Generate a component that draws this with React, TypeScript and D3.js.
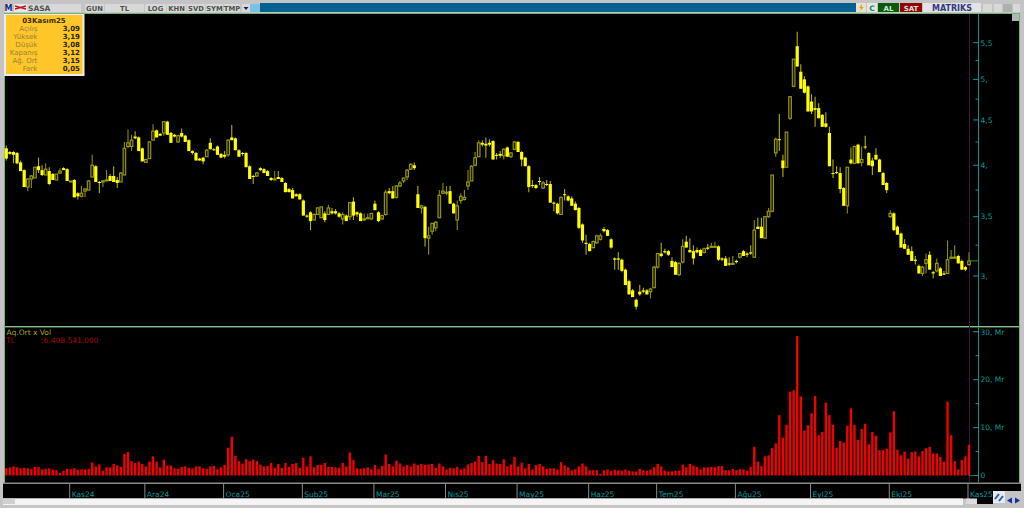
import React from 'react';
import * as d3 from 'd3';

// [open, high, low, close] per trading day
const ekim24 = [
  [4.18,4.21,4.05,4.07],[4.14,4.15,4.11,4.12],[4.14,4.15,4.02,4.11],[4.13,4.14,4.01,4.02],[4.03,4.05,3.94,3.94],
  [3.95,3.96,3.78,3.78],[3.78,3.87,3.74,3.86],[3.86,3.90,3.77,3.89],[3.87,3.98,3.87,3.98],[3.99,4.08,3.92,3.95],
  [3.95,4.00,3.89,3.90],[3.90,4.02,3.90,3.96],[3.94,3.98,3.80,3.81],[3.91,3.92,3.85,3.85],[3.85,3.91,3.85,3.91],
  [3.92,3.97,3.91,3.94],[3.97,3.98,3.95,3.95],[3.96,3.97,3.84,3.84],
];
const kasim24 = [
  [3.84,3.84,3.83,3.84],[3.85,3.86,3.68,3.68],[3.72,3.73,3.66,3.69],[3.69,3.79,3.68,3.72],[3.74,3.77,3.68,3.76],
  [3.75,3.85,3.75,3.84],[3.88,4.11,3.88,4.00],[3.99,4.00,3.83,3.83],[3.83,3.84,3.72,3.82],[3.84,3.85,3.78,3.84],
  [3.84,3.95,3.84,3.85],[3.89,3.91,3.84,3.84],[3.89,3.99,3.83,3.83],[3.85,3.88,3.77,3.82],[3.83,3.93,3.83,3.92],
  [3.90,4.25,3.90,4.18],[4.20,4.39,4.18,4.24],[4.20,4.33,4.15,4.27],[4.31,4.37,4.28,4.29],[4.30,4.31,4.15,4.15],
  [4.18,4.19,4.04,4.04],
];
const aralik24 = [
  [4.03,4.07,4.03,4.06],[4.07,4.26,4.07,4.25],[4.27,4.45,4.27,4.37],[4.38,4.39,4.30,4.30],[4.34,4.35,4.32,4.32],
  [4.35,4.48,4.32,4.48],[4.48,4.49,4.33,4.33],[4.35,4.36,4.24,4.24],[4.33,4.34,4.30,4.31],[4.25,4.33,4.24,4.32],
  [4.35,4.40,4.30,4.31],[4.32,4.33,4.25,4.25],[4.27,4.28,4.15,4.15],[4.15,4.16,4.11,4.13],[4.13,4.14,4.05,4.05],
  [4.07,4.08,4.05,4.05],[4.08,4.09,4.01,4.04],[4.09,4.17,4.09,4.16],[4.24,4.29,4.17,4.17],[4.17,4.18,4.15,4.16],
  [4.20,4.21,4.11,4.11],[4.12,4.13,4.08,4.08],
];
const ocak25 = [
  [4.11,4.15,4.07,4.09],[4.11,4.28,4.09,4.27],[4.30,4.44,4.27,4.27],[4.29,4.30,4.16,4.16],[4.16,4.17,4.09,4.09],
  [4.13,4.14,4.10,4.12],[4.13,4.14,3.98,3.98],[3.99,4.00,3.86,3.86],[3.89,3.90,3.81,3.88],[3.89,3.93,3.88,3.92],
  [3.97,3.98,3.94,3.95],[3.96,3.97,3.92,3.92],[3.94,3.95,3.89,3.89],[3.87,3.88,3.84,3.85],[3.86,3.94,3.85,3.86],
  [3.88,3.94,3.86,3.86],[3.87,3.88,3.83,3.83],[3.82,3.83,3.73,3.73],[3.76,3.77,3.73,3.73],[3.75,3.77,3.67,3.67],
  [3.71,3.72,3.69,3.69],[3.71,3.72,3.66,3.66],
];
const subat25 = [
  [3.65,3.66,3.51,3.51],[3.51,3.52,3.49,3.50],[3.54,3.55,3.38,3.46],[3.47,3.53,3.47,3.52],[3.52,3.59,3.52,3.58],
  [3.49,3.59,3.49,3.59],[3.53,3.55,3.45,3.47],[3.52,3.61,3.52,3.58],[3.55,3.58,3.52,3.53],[3.55,3.57,3.52,3.53],
  [3.53,3.54,3.49,3.50],[3.48,3.54,3.43,3.52],[3.51,3.52,3.46,3.46],[3.50,3.63,3.47,3.63],[3.64,3.68,3.47,3.51],
  [3.54,3.55,3.50,3.52],[3.53,3.54,3.46,3.46],[3.48,3.53,3.46,3.48],[3.49,3.53,3.48,3.49],[3.48,3.53,3.47,3.53],
];
const mart25 = [
  [3.62,3.65,3.56,3.56],[3.54,3.55,3.45,3.46],[3.48,3.52,3.47,3.51],[3.52,3.75,3.51,3.73],[3.74,3.77,3.71,3.72],
  [3.74,3.79,3.67,3.67],[3.68,3.80,3.67,3.79],[3.79,3.84,3.78,3.82],[3.84,3.87,3.82,3.87],[3.88,3.96,3.85,3.95],
  [3.96,4.02,3.95,4.01],[4.00,4.03,3.95,3.97],[3.71,3.79,3.58,3.58],[3.58,3.61,3.53,3.60],[3.59,3.60,3.24,3.31],
  [3.31,3.41,3.17,3.33],[3.37,3.44,3.34,3.44],[3.40,3.46,3.37,3.45],[3.49,3.75,3.49,3.70],[3.72,3.82,3.71,3.74],
];
const nisan25 = [
  [3.73,3.79,3.70,3.73],[3.74,3.79,3.62,3.62],[3.62,3.63,3.53,3.53],[3.47,3.65,3.38,3.60],[3.65,3.72,3.62,3.69],
  [3.66,3.75,3.65,3.68],[3.79,3.95,3.75,3.83],[3.84,4.00,3.84,3.99],[4.00,4.14,3.99,4.08],[4.09,4.27,4.09,4.24],
  [4.24,4.27,4.20,4.22],[4.23,4.30,4.08,4.21],[4.24,4.28,4.20,4.22],[4.26,4.27,4.06,4.06],[4.11,4.13,4.06,4.10],
  [4.12,4.15,4.08,4.10],[4.10,4.18,4.06,4.17],[4.19,4.20,4.09,4.09],[4.09,4.14,4.08,4.13],[4.17,4.26,4.16,4.25],
];
const mayis25 = [
  [4.25,4.26,4.14,4.14],[4.14,4.15,3.99,4.06],[4.08,4.09,3.99,3.99],[3.99,4.00,3.73,3.78],[3.80,3.85,3.77,3.79],
  [3.80,3.81,3.76,3.77],[3.84,3.88,3.80,3.83],[3.77,3.84,3.76,3.82],[3.81,3.85,3.79,3.80],[3.81,3.84,3.63,3.63],
  [3.63,3.64,3.55,3.62],[3.62,3.63,3.52,3.53],[3.52,3.69,3.52,3.68],[3.71,3.76,3.65,3.70],[3.69,3.70,3.64,3.65],
  [3.67,3.69,3.60,3.60],[3.62,3.64,3.56,3.56],[3.58,3.59,3.39,3.40],[3.43,3.44,3.27,3.29],[3.27,3.34,3.17,3.26],
];
const haziran25 = [
  [3.26,3.27,3.20,3.20],[3.23,3.29,3.22,3.28],[3.27,3.34,3.26,3.33],[3.30,3.35,3.29,3.33],[3.39,3.41,3.36,3.37],
  [3.38,3.39,3.33,3.33],[3.30,3.31,3.22,3.23],[3.14,3.15,3.05,3.13],[3.14,3.19,3.05,3.13],[3.13,3.14,3.03,3.04],
  [3.05,3.06,2.93,2.93],[2.96,2.97,2.86,2.86],[2.89,2.90,2.84,2.84],[2.82,2.83,2.75,2.77],[2.88,2.93,2.85,2.86],
  [2.89,2.91,2.87,2.88],[2.89,2.90,2.86,2.86],[2.88,2.91,2.83,2.90],[2.91,3.08,2.91,3.07],
];
const temmuz25 = [
  [3.07,3.18,3.06,3.18],[3.18,3.27,3.15,3.16],[3.20,3.22,3.18,3.19],[3.20,3.21,3.16,3.17],[3.12,3.15,3.07,3.07],
  [3.11,3.12,3.01,3.01],[3.01,3.11,3.00,3.10],[3.11,3.30,3.10,3.24],[3.28,3.33,3.23,3.23],[3.21,3.31,3.19,3.19],
  [3.20,3.25,3.09,3.14],[3.21,3.23,3.18,3.19],[3.21,3.22,3.16,3.16],[3.19,3.23,3.18,3.22],[3.23,3.26,3.21,3.22],
  [3.24,3.27,3.23,3.24],[3.24,3.28,3.23,3.24],[3.24,3.25,3.12,3.13],[3.14,3.15,3.12,3.13],[3.14,3.16,3.08,3.08],
  [3.10,3.15,3.08,3.09],[3.10,3.16,3.09,3.10],
];
const agustos25 = [
  [3.12,3.13,3.10,3.11],[3.15,3.18,3.14,3.18],[3.20,3.21,3.16,3.16],[3.18,3.19,3.15,3.17],[3.19,3.25,3.17,3.18],
  [3.15,3.47,3.15,3.38],[3.41,3.49,3.39,3.39],[3.41,3.49,3.31,3.31],[3.31,3.50,3.31,3.50],[3.50,3.58,3.49,3.55],
  [3.55,3.90,3.54,3.90],[4.13,4.30,4.09,4.28],[4.28,4.57,4.15,4.27],[4.05,4.11,3.88,3.97],[3.98,4.36,3.98,4.36],
  [4.52,4.78,4.50,4.78],[4.91,5.27,4.90,5.27],[5.45,5.66,5.17,5.17],[5.10,5.20,4.88,4.88],[5.00,5.04,4.82,4.83],
  [4.91,4.92,4.60,4.60],
];
const eylul25 = [
  [4.72,4.81,4.57,4.60],[4.64,4.78,4.42,4.62],[4.64,4.70,4.52,4.52],[4.56,4.57,4.42,4.42],[4.46,4.59,4.41,4.42],
  [4.35,4.42,3.99,3.99],[3.92,4.06,3.87,3.91],[3.93,3.99,3.91,3.92],[3.92,3.98,3.72,3.76],[3.77,3.78,3.60,3.60],
  [3.60,3.98,3.53,3.98],[4.06,4.19,4.01,4.02],[4.02,4.21,4.02,4.20],[4.22,4.23,4.02,4.02],[4.03,4.20,3.99,4.06],
  [4.20,4.32,4.17,4.19],[4.13,4.14,4.00,4.00],[4.05,4.08,3.90,3.99],[4.11,4.18,4.06,4.06],[4.06,4.07,3.93,3.93],
  [3.92,3.93,3.80,3.80],[3.82,3.83,3.72,3.75],
];
const ekim25 = [
  [3.50,3.56,3.49,3.53],[3.53,3.54,3.37,3.38],[3.41,3.42,3.34,3.34],[3.35,3.36,3.23,3.23],[3.26,3.30,3.22,3.22],
  [3.22,3.25,3.17,3.17],[3.20,3.24,3.12,3.12],[3.13,3.16,3.09,3.12],[3.08,3.09,3.02,3.02],[3.02,3.08,3.00,3.07],
  [3.10,3.18,3.02,3.13],[3.17,3.20,3.05,3.05],[3.03,3.04,2.98,3.02],[3.04,3.14,3.03,3.10],[3.06,3.07,3.00,3.00],
  [3.02,3.04,3.01,3.01],[3.02,3.29,3.02,3.13],[3.15,3.21,3.14,3.15],[3.15,3.25,3.14,3.15],[3.16,3.17,3.10,3.10],
  [3.12,3.13,3.05,3.05],[3.07,3.08,3.04,3.05],
];
const kasim25 = [[3.09,3.19,3.08,3.12]];

const monthRows = [ekim24, kasim24, aralik24, ocak25, subat25, mart25, nisan25, mayis25, haziran25, temmuz25, agustos25, eylul25, ekim25, kasim25];
const monthLabels = ['', 'Kas24', 'Ara24', 'Oca25', 'Şub25', 'Mar25', 'Nis25', 'May25', 'Haz25', 'Tem25', 'Ağu25', 'Eyl25', 'Eki25', 'Kas25'];

// traded value, milliards of TL
const volumeA = [
  1.5,1.7,1.9,1.7,1.5,1.6,1.5,1.3,1.8,1.8, 1.25,1.4,1.5,1.25,1.1,0.55,1.0,1.4,1.3,1.5,
  1.2,1.3,1.25,1.4,2.7,1.9,2.3,1.0,1.7,1.7, 2.4,2.1,1.8,4.5,4.9,3.0,2.6,2.9,2.4,1.9,
  2.9,4.0,2.9,1.7,3.3,2.1,2.1,1.5,1.4,1.8, 1.9,1.6,1.5,1.9,1.9,1.5,1.4,1.9,2.0,1.3,
  1.7,2.2,5.8,8.1,4.1,3.0,2.5,3.4,3.0,3.3, 3.0,2.3,1.9,2.0,2.6,1.6,2.4,1.6,2.6,1.8,
  2.4,2.6,1.6,3.7,1.9,4.0,1.7,2.2,2.2,2.6, 1.8,1.8,1.7,1.6,
];
const volumeB = [
  2.6,1.9,4.8,3.2,1.5,1.4,1.5,1.7,1.3,2.2, 1.3,2.0,4.4,2.4,1.9,3.1,2.5,1.9,2.2,1.9,
  2.5,2.2,2.4,2.2,2.3,2.4,1.6,2.5,1.9,1.25, 1.6,1.5,1.8,1.25,1.5,2.3,2.6,2.9,4.1,2.8,
  4.1,2.4,3.2,2.5,2.4,3.4,1.9,2.3,3.9,1.9, 2.7,1.5,2.4,1.25,2.2,2.4,1.9,1.4,1.5,1.5,
  1.25,2.8,2.1,1.7,1.1,1.3,1.9,2.5,1.9,1.1, 1.1,1.1,0.35,1.1,1.25,0.9,1.2,1.1,1.0,1.25,
  1.0,0.85,0.85,1.4,1.1,1.0,1.25,1.75,2.4,1.9, 1.0,0.85,0.85,1.0,1.0,
];
const volumeC = [
  2.3,1.7,2.4,2.1,1.8,1.25,1.7,1.7,1.8,1.7, 1.95,1.95,1.1,1.1,1.4,1.1,1.3,1.25,1.0,1.8,
  6.0,2.9,1.95,4.0,4.2,5.7,6.7,12.6,7.9,10.6, 17.5,17.8,29.1,16.5,9.4,10.5,13.0,16.6,8.4,9.1,
  15.2,12.6,10.6,5.8,7.2,6.9,10.4,14.0,10.6,7.4, 9.7,10.8,6.5,9.1,8.3,5.3,5.3,5.6,9.0,13.4,
  5.4,4.2,5.0,3.5,4.9,5.0,4.0,5.1,5.7,6.0, 4.6,4.6,3.9,2.9,15.4,8.4,3.0,1.25,3.2,4.0,
  6.41,
];

const priceTicks = [3, 3.5, 4, 4.5, 5, 5.5];
const priceMinorTicks = [3.25, 3.75, 4.25, 4.75, 5.25];
const priceTickLabels = ['3,', '3,5', '4,', '4,5', '5,', '5,5'];
const volumeTicks = [0, 10, 20, 30];
const volumeMinorTicks = [5, 15, 25];
const volumeTickLabels = ['0', '10, Mr', '20, Mr', '30, Mr'];

const infoRows = [
  ['Açılış', '3,09'],
  ['Yüksek', '3,19'],
  ['Düşük', '3,08'],
  ['Kapanış', '3,12'],
  ['Ağ. Ort', '3,15'],
  ['Fark', '0,05'],
];

const toolbarLeft = [
  { label: 'GUN', x: 85, w: 19 },
  { label: 'TL', x: 105, w: 39 },
  { label: 'LOG', x: 145, w: 21 },
  { label: 'KHN', x: 167, w: 19 },
  { label: 'SVD', x: 187, w: 18 },
  { label: 'SYM', x: 206, w: 17 },
  { label: 'TMP', x: 224, w: 16 },
];

const candles = monthRows.flat();
const volumes = [...volumeA, ...volumeB, ...volumeC];
const FONT = '"DejaVu Sans", sans-serif';
const TEAL = '#009a9a';

export default function App() {
  const x = d3.scaleLinear().domain([0, candles.length - 1]).range([6.3, 969]);
  const y = d3.scaleLog().domain([3, 5.5]).range([276, 42.7]);
  const v = d3.scaleLinear().domain([0, 30]).range([475.5, 331.7]);

  let start = 0;
  const monthStarts = monthRows.map((m) => {
    const s = start;
    start += m.length;
    return s;
  });
  const last = candles[candles.length - 1];

  return (
    <svg width={1024} height={508} style={{ position: 'fixed', left: 0, top: 0, display: 'block' }} fontFamily={FONT}>
      <rect width={1024} height={508} fill="#c4c4c4" />

      {/* toolbar */}
      <rect x={260} y={3} width={596} height={9} fill="#03608f" />
      <rect x={5} y={4} width={7} height={8} fill="#e8e8f0" />
      <text x={8.5} y={11} fontSize={8} fontWeight="bold" fill="#1a2a80" textAnchor="middle">M</text>
      <rect x={14} y={4} width={13} height={8} fill="#e6e6ee" />
      <path d="M15,6 L26,9 M15,9 L26,6" stroke="#c01818" strokeWidth={1.4} />
      <rect x={27} y={4} width={54} height={8} fill="#d8d8d8" />
      <text x={28} y={11} fontSize={7.5} fontWeight="bold" fill="#505050">SASA</text>
      {toolbarLeft.map((b) => (
        <g key={b.label}>
          <rect x={b.x} y={4} width={b.w} height={8} fill="#d8d8d8" />
          <text x={b.x + b.w / 2} y={10.8} fontSize={6.8} fontWeight="bold" fill="#505050" textAnchor="middle">{b.label}</text>
        </g>
      ))}
      <rect x={242} y={4} width={8} height={8} fill="#d8d8d8" />
      <path d="M243.5,7 L248.5,7 L246,10 Z" fill="#102040" />
      <rect x={250} y={4} width={10} height={8} fill="#7cc0e8" />
      <rect x={856} y={3} width={10} height={9} fill="#e8e0d0" />
      <path d="M862,4 L859,8 L861,8 L860,11 L864,7 L862,7 Z" fill="#f0a020" />
      <rect x={867} y={3} width={10} height={9} fill="#e0e8e0" />
      <text x={872} y={10.5} fontSize={7.5} fontWeight="bold" fill="#108070" textAnchor="middle">C</text>
      <rect x={878} y={3} width={21} height={9} fill="#0a5a0a" />
      <text x={888.5} y={10.5} fontSize={7} fontWeight="bold" fill="#d8e8d8" textAnchor="middle">AL</text>
      <rect x={900} y={3} width={22} height={9} fill="#8a0808" />
      <text x={911} y={10.5} fontSize={7} fontWeight="bold" fill="#f0d8d8" textAnchor="middle">SAT</text>
      <rect x={923} y={3} width={58} height={9} fill="#e2e2e8" />
      <text x={952} y={10.8} fontSize={8} fontWeight="bold" fill="#343a80" textAnchor="middle">MATRIKS</text>
      <rect x={983} y={4} width={9} height={8} fill="#d8d8d8" />
      <rect x={994} y={4} width={8} height={8} fill="#d8d8d8" />
      <rect x={1003} y={4} width={9} height={8} fill="#b0b0b0" />
      <rect x={1013} y={4} width={7} height={8} fill="#d8d8d8" />

      {/* panes */}
      <rect x={5} y={13} width={1015} height={470} fill="#000" />
      <rect x={3} y={484} width={1018} height={7} fill="#000" />
      <rect x={3} y={491} width={990} height={7.5} fill="#000" />
      <rect x={970} y={498} width={23} height={6} fill="#000" />
      <rect x={1012} y={14} width={8} height={7} fill="#b4b4b4" />
      <rect x={5} y={13} width={1015} height={1} fill="#6fb86f" />
      <rect x={5} y={326} width={1015} height={1.4} fill="#86c486" />
      <rect x={1019} y={13} width={1} height={470} fill="#6fb86f" />
      <rect x={4} y={13} width={1} height={470} fill="#6fb86f" />
      <rect x={3} y={482.5} width={1018} height={1.5} fill="#8a8a8a" />

      {/* right axis lines */}
      <line x1={969.5} x2={969.5} y1={14} y2={482} stroke="#4a0f4a" />
      <line x1={978.5} x2={978.5} y1={14} y2={326} stroke={TEAL} />
      <line x1={978.5} x2={978.5} y1={327} y2={482} stroke={TEAL} />

      {priceMinorTicks.map((t) => (
        <line key={t} x1={975.5} x2={978} y1={y(t)} y2={y(t)} stroke={TEAL} />
      ))}
      {priceTicks.map((t, i) => (
        <g key={t}>
          <line x1={973} x2={978} y1={y(t)} y2={y(t)} stroke={TEAL} />
          <text x={980.5} y={y(t) + 2.8} fontSize={7.5} fill={TEAL}>{priceTickLabels[i]}</text>
        </g>
      ))}
      {volumeMinorTicks.map((t) => (
        <line key={t} x1={975.5} x2={978} y1={v(t)} y2={v(t)} stroke={TEAL} />
      ))}
      {volumeTicks.map((t, i) => (
        <g key={t}>
          <line x1={973} x2={978} y1={v(t)} y2={v(t)} stroke={TEAL} />
          <text x={980.5} y={v(t) + 2.8} fontSize={7.5} fill={TEAL}>{volumeTickLabels[i]}</text>
        </g>
      ))}

      {/* candles */}
      {candles.map(([o, h, l, c], i) => {
        const down = c < o;
        const top = y(Math.max(o, c));
        const height = Math.max(1, y(Math.min(o, c)) - top);
        return (
          <g key={i}>
            <line x1={x(i)} x2={x(i)} y1={y(h)} y2={y(l)} stroke={down ? '#b0b000' : '#8c8c00'} strokeWidth={1.1} />
            {down ? (
              <rect x={x(i) - 1.6} y={top} width={3.2} height={height} fill="#ffff00" />
            ) : (
              <rect x={x(i) - 1.3} y={top} width={2.6} height={height} fill="#1a1a00" stroke="#9a9a10" strokeWidth={1.1} />
            )}
          </g>
        );
      })}
      <line x1={969} x2={978} y1={y(last[3])} y2={y(last[3])} stroke="#2e8a2e" />

      {/* volume */}
      {volumes.map((d, i) => (
        <rect key={i} x={x(i) - 1.2} y={v(d)} width={2.4} height={v(0) - v(d)} fill="#f00000" />
      ))}
      <line x1={969} x2={975} y1={v(0)} y2={v(0)} stroke="#2e6a2e" />
      <text x={6.5} y={335} fontSize={7.5} fill="#a8a800">Aq.Ort x Vol</text>
      <text x={6} y={343} fontSize={7.5} fill="#a80000">TL</text>
      <text x={41} y={343} fontSize={7.5} fill="#a80000">:6.408.541.000</text>

      {/* date axis */}
      {monthStarts.map((s, i) =>
        monthLabels[i] ? (
          <g key={i}>
            <line x1={x(s) - 1} x2={x(s) - 1} y1={484} y2={498} stroke="#8a8a8a" />
            <text x={x(s) + 1} y={496.5} fontSize={7.5} fill={TEAL}>{monthLabels[i]}</text>
          </g>
        ) : null
      )}
      <rect x={3} y={498.5} width={960} height={6.5} fill="#f4f4f4" />
      <rect x={3} y={498.5} width={12} height={5.5} fill="#d0d0d0" />
      <rect x={966} y={498.5} width={11} height={5.5} fill="#dcdcdc" />
      <rect x={993} y={491} width={12} height={12} fill="#e8e8f0" />
      <path d="M995,499 L999,494 M999,501 L1003,496" stroke="#2060b0" strokeWidth={2} />
      <path d="M1007,500.5 L1012,497.5 L1012,503.5 Z M1015,497.5 L1020,500.5 L1015,503.5 Z" fill="#1030a0" />

      {/* info box */}
      <rect x={4} y={14} width={80.5} height={62} fill="#ececec" />
      <rect x={6} y={15} width={76.5} height={59} fill="#ffc62a" />
      <text x={44} y={22.5} fontSize={7} fontWeight="bold" fill="#3a3000" textAnchor="middle">03Kasım25</text>
      {infoRows.map(([label, value], i) => (
        <g key={label}>
          <text x={37.3} y={31.3 + i * 8} fontSize={7} fill="#96823a" textAnchor="end">{label}</text>
          <text x={80} y={31.3 + i * 8} fontSize={7} fontWeight="bold" fill="#2a2400" textAnchor="end">{value}</text>
        </g>
      ))}
    </svg>
  );
}
